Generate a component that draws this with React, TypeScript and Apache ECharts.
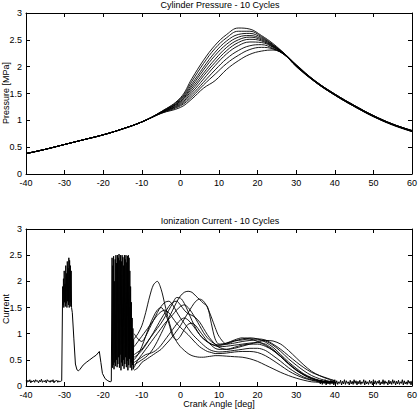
import React, { useEffect, useRef } from "react";
import * as echarts from "echarts";

// ---------- Cylinder pressure (MPa) ----------
const pressureAngles = [-40, -35, -30, -25, -20, -15, -10, -5, 0, 3, 6, 9, 12, 15, 18, 21, 24, 27, 30, 35, 40, 45, 50, 55, 60];
// shared compression stroke, -40 .. -10
const compression = [0.38, 0.46, 0.55, 0.64, 0.73, 0.84, 0.97];
// per cycle, -5 .. 27
const combustion = [
  [1.16, 1.42, 1.78, 2.12, 2.4, 2.6, 2.72, 2.7, 2.58, 2.43, 2.24],
  [1.16, 1.4, 1.73, 2.06, 2.34, 2.54, 2.66, 2.66, 2.56, 2.41, 2.24],
  [1.15, 1.38, 1.68, 1.99, 2.27, 2.48, 2.6, 2.62, 2.54, 2.4, 2.24],
  [1.15, 1.36, 1.64, 1.94, 2.21, 2.42, 2.55, 2.58, 2.52, 2.39, 2.23],
  [1.15, 1.35, 1.6, 1.88, 2.14, 2.36, 2.5, 2.55, 2.5, 2.38, 2.23],
  [1.14, 1.33, 1.56, 1.83, 2.08, 2.3, 2.45, 2.51, 2.48, 2.37, 2.23],
  [1.14, 1.31, 1.52, 1.77, 2.02, 2.24, 2.39, 2.46, 2.45, 2.36, 2.22],
  [1.14, 1.29, 1.48, 1.71, 1.94, 2.15, 2.3, 2.39, 2.41, 2.34, 2.22],
  [1.13, 1.27, 1.44, 1.66, 1.86, 2.06, 2.21, 2.32, 2.36, 2.33, 2.22],
  [1.13, 1.24, 1.4, 1.6, 1.74, 1.95, 2.11, 2.23, 2.29, 2.31, 2.22],
];
// per cycle, 30 .. 60
const expansion = [
  [2.03, 1.73, 1.49, 1.28, 1.09, 0.93, 0.81],
  [2.02, 1.72, 1.48, 1.27, 1.08, 0.92, 0.8],
  [2.04, 1.73, 1.49, 1.28, 1.09, 0.93, 0.8],
  [2.01, 1.71, 1.47, 1.26, 1.07, 0.92, 0.79],
  [2.03, 1.72, 1.48, 1.27, 1.08, 0.93, 0.81],
  [2.02, 1.71, 1.47, 1.26, 1.08, 0.92, 0.8],
  [2.01, 1.72, 1.48, 1.27, 1.07, 0.91, 0.79],
  [2.02, 1.73, 1.49, 1.28, 1.09, 0.93, 0.81],
  [2.0, 1.71, 1.47, 1.26, 1.07, 0.92, 0.8],
  [2.01, 1.72, 1.48, 1.27, 1.08, 0.92, 0.8],
];

// ---------- Ionization current ----------
// shared ignition part
const baseNoiseStart = -40, baseNoiseStep = 0.25;
const baseNoise = [
  0.1, 0.07, 0.11, 0.08, 0.12, 0.06, 0.1, 0.08, 0.11, 0.07,
  0.12, 0.09, 0.1, 0.06, 0.11, 0.08, 0.13, 0.07, 0.1, 0.08,
  0.11, 0.06, 0.12, 0.09, 0.1, 0.07, 0.11, 0.08, 0.12, 0.06,
  0.1, 0.09, 0.11, 0.07, 0.1, 0.08, 0.09, 0.1,
];
const sparkAStart = -30.5, sparkAStep = 0.1;
const sparkA = [
  1.9, 1.55, 2.05, 1.5, 2.2, 1.6, 1.95, 1.52, 2.3, 1.58, 2.15, 1.5,
  2.38, 1.62, 2.25, 1.55, 2.45, 1.5, 2.4, 1.6, 2.3, 1.52, 2.2, 1.5,
];
const recoveryAngles = [-28.0, -27.6, -27.2, -26.8, -26.4, -26.0, -25.2, -24.4, -23.5, -22.6, -21.8, -21.0, -20.6, -20.2, -19.5, -18.8, -18.2, -17.9];
const recoveryValues = [1.4, 0.9, 0.42, 0.31, 0.29, 0.32, 0.4, 0.45, 0.5, 0.55, 0.59, 0.66, 0.45, 0.24, 0.14, 0.1, 0.08, 0.09];
const sparkBStart = -17.7, sparkBStep = 0.1;
const sparkB = [
  2.45, 0.35, 2.3, 0.4, 2.48, 0.32, 2.0, 0.45, 2.42, 0.38,
  2.5, 0.5, 2.35, 0.36, 2.5, 0.42, 2.45, 0.55, 2.52, 0.35,
  2.4, 0.6, 2.5, 0.3, 2.38, 0.45, 2.5, 0.38, 2.46, 0.5,
  2.3, 0.33, 2.5, 0.42, 2.42, 0.55, 2.5, 0.36, 2.36, 0.48,
  2.48, 0.3, 2.5, 0.4, 2.45, 0.52, 2.2, 0.35, 1.9, 0.45,
  1.6, 0.3, 1.3, 0.4, 1.1, 0.32, 0.9,
];
// per cycle
const currentAngles = [-12, -11, -10, -9, -8, -7, -6, -5, -4, -3, -2, -1, 0, 1, 2, 3, 4, 5, 6, 7, 8, 9, 10, 12, 14, 16, 18, 20, 22, 24, 26, 28, 30, 32, 34, 36, 38, 40];
const currentCycles = [
  [0.9, 1.0, 1.15, 1.4, 1.7, 1.93, 2.0, 1.85, 1.55, 1.25, 1.0, 0.85, 0.75, 0.68, 0.62, 0.58, 0.56, 0.55, 0.55, 0.56, 0.57, 0.58, 0.58,
    0.57, 0.56, 0.55, 0.52, 0.47, 0.4, 0.33, 0.26, 0.2, 0.15, 0.11, 0.08, 0.07, 0.06, 0.06],
  [0.4, 0.45, 0.5, 0.55, 0.62, 0.72, 0.85, 1.0, 1.15, 1.3, 1.45, 1.6, 1.72, 1.79, 1.81, 1.79, 1.72, 1.65, 1.58, 1.52, 1.2, 0.9, 0.8,
    0.82, 0.86, 0.88, 0.9, 0.9, 0.88, 0.8, 0.7, 0.58, 0.46, 0.35, 0.26, 0.2, 0.15, 0.1],
  [0.6, 0.65, 0.7, 0.8, 0.9, 1.0, 1.1, 1.2, 1.32, 1.45, 1.58, 1.69, 1.68, 1.58, 1.42, 1.25, 1.1, 0.98, 0.9, 0.85, 0.8, 0.77, 0.75,
    0.76, 0.78, 0.8, 0.82, 0.83, 0.8, 0.7, 0.57, 0.43, 0.31, 0.21, 0.14, 0.1, 0.08, 0.07],
  [1.0, 0.9, 0.85, 0.95, 1.1, 1.25, 1.4, 1.52, 1.6, 1.62, 1.55, 1.42, 1.3, 1.2, 1.1, 1.0, 0.92, 0.85, 0.78, 0.72, 0.68, 0.66, 0.65,
    0.66, 0.68, 0.7, 0.72, 0.72, 0.68, 0.58, 0.47, 0.35, 0.25, 0.17, 0.12, 0.09, 0.07, 0.06],
  [0.35, 0.5, 0.6, 0.7, 0.8, 0.9, 1.0, 1.1, 1.2, 1.28, 1.36, 1.45, 1.52, 1.55, 1.5, 1.4, 1.28, 1.15, 1.02, 0.92, 0.85, 0.8, 0.78,
    0.8, 0.86, 0.9, 0.92, 0.9, 0.84, 0.74, 0.6, 0.46, 0.34, 0.23, 0.16, 0.11, 0.08, 0.07],
  [0.3, 0.35, 0.45, 0.5, 0.55, 0.6, 0.65, 0.7, 0.78, 0.86, 0.95, 1.05, 1.15, 1.28, 1.4, 1.52, 1.62, 1.66, 1.62, 1.5, 1.32, 1.12, 0.95,
    0.8, 0.82, 0.85, 0.87, 0.88, 0.86, 0.78, 0.66, 0.52, 0.4, 0.29, 0.2, 0.14, 0.1, 0.08],
  [0.75, 0.85, 0.95, 1.05, 1.15, 1.25, 1.35, 1.42, 1.45, 1.4, 1.3, 1.2, 1.12, 1.05, 0.98, 0.9, 0.82, 0.75, 0.7, 0.66, 0.64, 0.62, 0.62,
    0.63, 0.65, 0.66, 0.66, 0.64, 0.58, 0.49, 0.39, 0.29, 0.21, 0.15, 0.11, 0.08, 0.07, 0.06],
  [0.5, 0.6, 0.75, 0.95, 1.15, 1.32, 1.45, 1.5, 1.4, 1.2, 0.95, 0.88, 0.95, 1.08, 1.18, 1.2, 1.15, 1.05, 0.95, 0.85, 0.78, 0.72, 0.7,
    0.7, 0.74, 0.78, 0.8, 0.8, 0.76, 0.68, 0.56, 0.42, 0.3, 0.21, 0.14, 0.1, 0.08, 0.07],
  [0.45, 0.5, 0.55, 0.6, 0.62, 0.65, 0.7, 0.78, 0.88, 0.98, 1.08, 1.18, 1.26, 1.3, 1.26, 1.18, 1.08, 0.98, 0.9, 0.84, 0.8, 0.78, 0.78,
    0.82, 0.88, 0.92, 0.9, 0.85, 0.78, 0.68, 0.56, 0.43, 0.31, 0.22, 0.15, 0.1, 0.08, 0.07],
  [0.55, 0.6, 0.68, 0.78, 0.9, 1.02, 1.15, 1.28, 1.4, 1.52, 1.6, 1.62, 1.55, 1.45, 1.38, 1.35, 1.3, 1.22, 1.1, 0.98, 0.88, 0.8, 0.74,
    0.7, 0.72, 0.76, 0.8, 0.84, 0.87, 0.86, 0.8, 0.68, 0.54, 0.4, 0.28, 0.2, 0.14, 0.1],
];
// shared noisy tail
const tailStart = 36, tailStep = 0.25;
const tail = [
  0.09, 0.04, 0.11, 0.03, 0.08, 0.05, 0.12, 0.02, 0.1, 0.04,
  0.09, 0.03, 0.11, 0.05, 0.08, 0.02, 0.12, 0.04, 0.1, 0.03,
  0.08, 0.05, 0.11, 0.02, 0.09, 0.04, 0.12, 0.03, 0.1, 0.05,
  0.08, 0.02, 0.11, 0.04, 0.09, 0.03, 0.12, 0.05, 0.1, 0.02,
  0.09, 0.04, 0.11, 0.03, 0.08, 0.05, 0.12, 0.02, 0.1, 0.04,
  0.08, 0.03, 0.11, 0.05, 0.09, 0.02, 0.12, 0.04, 0.1, 0.03,
  0.09, 0.05, 0.11, 0.02, 0.08, 0.04, 0.12, 0.03, 0.1, 0.05,
  0.08, 0.02, 0.11, 0.04, 0.09, 0.03, 0.12, 0.05, 0.1, 0.02,
  0.09, 0.04, 0.11, 0.03, 0.08, 0.05, 0.12, 0.02, 0.1, 0.04,
  0.08, 0.03, 0.11, 0.05, 0.09, 0.02, 0.1,
];

// ---------- axes / text ----------
const xMin = -40, xMax = 60, xInterval = 10;
const yMin = 0, yMax = 3, yInterval = 0.5;
const topTitle = "Cylinder Pressure - 10 Cycles";
const bottomTitle = "Ionization Current - 10 Cycles";
const topYName = "Pressure [MPa]";
const bottomYName = "Current";
const xName = "Crank Angle [deg]";

const FONT = "'Liberation Sans', Arial, Helvetica, sans-serif";

const seq = (x0: number, step: number, ys: number[]) => ys.map((y, i) => [+(x0 + i * step).toFixed(3), y]);

export default function App() {
  const ref = useRef<HTMLDivElement>(null);
  useEffect(() => {
    if (!ref.current) return;
    const chart = echarts.init(ref.current, null, { renderer: "svg" });

    const xAxis = (gridIndex: number, position: string, labels: boolean) => ({
      type: "value", gridIndex, position, min: xMin, max: xMax, interval: xInterval,
      axisLine: { show: true, onZero: false, lineStyle: { color: "#000", width: 1 } },
      axisTick: { show: true, inside: true, length: 4, lineStyle: { color: "#000", width: 1 } },
      axisLabel: { show: labels, color: "#000", fontSize: 9, fontFamily: FONT, margin: 4 },
      splitLine: { show: false },
    });
    const yAxis = (gridIndex: number, position: string, labels: boolean) => ({
      type: "value", gridIndex, position, min: yMin, max: yMax, interval: yInterval,
      axisLine: { show: true, onZero: false, lineStyle: { color: "#000", width: 1 } },
      axisTick: { show: true, inside: true, length: 4, lineStyle: { color: "#000", width: 1 } },
      axisLabel: { show: labels, color: "#000", fontSize: 9, fontFamily: FONT, margin: 4 },
      splitLine: { show: false },
    });

    const lineStyle = { color: "#000", width: 0.9 };
    const series: any[] = [];

    combustion.forEach((mid, k) => {
      const ys = [...compression, ...mid, ...expansion[k]];
      series.push({
        type: "line", xAxisIndex: 0, yAxisIndex: 0, showSymbol: false, symbol: "none",
        smooth: 0.4, lineStyle, data: pressureAngles.map((x, i) => [x, ys[i]]),
      });
    });

    const ignition = [
      ...seq(baseNoiseStart, baseNoiseStep, baseNoise),
      ...seq(sparkAStart, sparkAStep, sparkA),
      ...recoveryAngles.map((x, i) => [x, recoveryValues[i]]),
      ...seq(sparkBStart, sparkBStep, sparkB),
    ];
    series.push({
      type: "line", xAxisIndex: 2, yAxisIndex: 2, symbol: "none", lineStyle: { color: "#000", width: 1 },
      data: ignition,
    });
    currentCycles.forEach((ys) => {
      series.push({
        type: "line", xAxisIndex: 2, yAxisIndex: 2, symbol: "none", smooth: 0.3,
        lineStyle, data: currentAngles.map((x, i) => [x, ys[i]]),
      });
    });
    series.push({
      type: "line", xAxisIndex: 2, yAxisIndex: 2, symbol: "none", lineStyle: { color: "#000", width: 1 },
      data: seq(tailStart, tailStep, tail),
    });

    const txt = (text: string, x: number, y: number, rot = 0) => ({
      type: "text", x, y, rotation: rot, silent: true,
      style: { text, fill: "#000", font: `9px ${FONT}`, textAlign: "center", textVerticalAlign: "middle", align: "center", verticalAlign: "middle" },
    });

    chart.setOption({
      animation: false,
      backgroundColor: "#fff",
      grid: [
        { left: 26, top: 13, width: 388, height: 161 },
        { left: 26, top: 229, width: 388, height: 157 },
      ],
      xAxis: [xAxis(0, "bottom", true), xAxis(0, "top", false), xAxis(1, "bottom", true), xAxis(1, "top", false)],
      yAxis: [yAxis(0, "left", true), yAxis(0, "right", false), yAxis(1, "left", true), yAxis(1, "right", false)],
      series,
      graphic: [
        txt(topTitle, 220, 5),
        txt(bottomTitle, 220, 221),
        txt(topYName, 6, 93, Math.PI / 2),
        txt(bottomYName, 6, 309, Math.PI / 2),
        txt(xName, 219, 404),
      ],
    });
    return () => chart.dispose();
  }, []);
  return <div ref={ref} style={{ position: "fixed", left: 0, top: 0, width: 420, height: 412 }} />;
}
